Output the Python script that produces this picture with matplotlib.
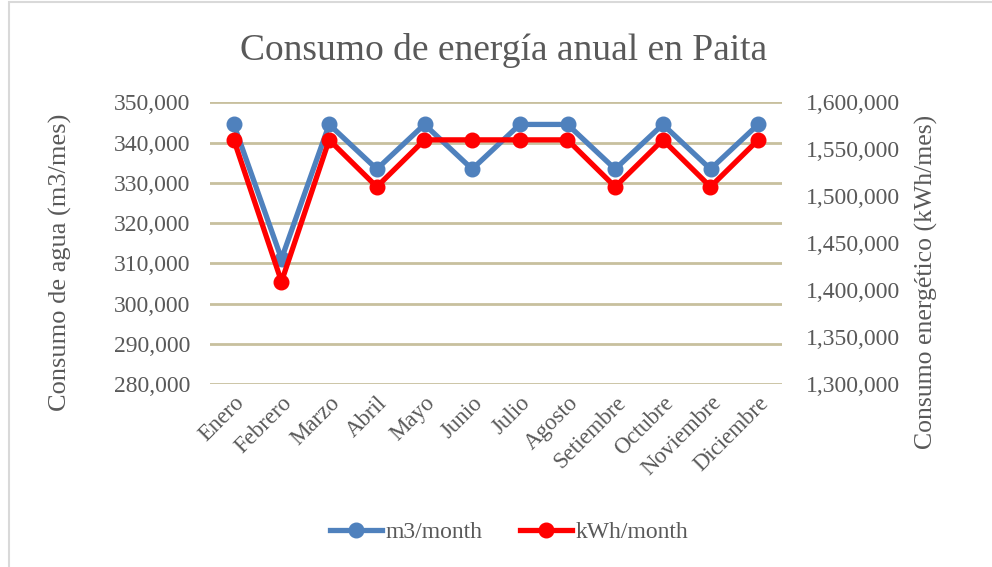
import matplotlib
matplotlib.use("Agg")
import matplotlib.pyplot as plt
from matplotlib.ticker import FuncFormatter, FixedLocator
from matplotlib.patches import Rectangle
from matplotlib.lines import Line2D

# Monthly data
months = ["Enero", "Febrero", "Marzo", "Abril", "Mayo", "Junio", "Julio",
          "Agosto", "Setiembre", "Octubre", "Noviembre", "Diciembre"]
water_m3 = [344500, 311100, 344500, 333400, 344500, 333400, 344500,
            344500, 333400, 344500, 333400, 344500]
energy_kwh = [1560000, 1409000, 1560000, 1510000, 1560000, 1560000, 1560000,
              1560000, 1510000, 1560000, 1510000, 1560000]
water_ticks = [280000, 290000, 300000, 310000, 320000, 330000, 340000, 350000]
energy_ticks = [1300000, 1350000, 1400000, 1450000, 1500000, 1550000, 1600000]

BLUE = "#4F81BD"
RED = "#FF0000"
TEXT = "#595959"
GRID = "#C8C09E"
FONT = "Liberation Serif"

plt.rcParams["font.family"] = [FONT, "DejaVu Serif"]

W, H = 992, 567
fig = plt.figure(figsize=(W / 100, H / 100), dpi=100)

# Outer chart frame
fig.add_artist(Rectangle((9 / W, -0.05), 1.2, 1 - 2 / H + 0.05,
                         transform=fig.transFigure, fill=False,
                         edgecolor="#D9D9D9", linewidth=1.5))

ax = fig.add_axes([210 / W, 1 - 384 / H, (782 - 210) / W, (384 - 102.3) / H])
ax2 = ax.twinx()

x = list(range(len(months)))
ax.plot(x, water_m3, color=BLUE, linewidth=3.8, marker="o", markersize=10.5,
        solid_joinstyle="round", label="m3/month", zorder=3)
ax2.plot(x, energy_kwh, color=RED, linewidth=3.8, marker="o", markersize=10.5,
         solid_joinstyle="round", label="kWh/month", zorder=3)

ax.set_xlim(-0.5, len(months) - 0.5)
ax.set_ylim(water_ticks[0], water_ticks[-1])
ax2.set_ylim(energy_ticks[0], energy_ticks[-1])
ax.yaxis.set_major_locator(FixedLocator(water_ticks))
ax2.yaxis.set_major_locator(FixedLocator(energy_ticks))
fmt = FuncFormatter(lambda v, p: f"{int(v):,}")
ax.yaxis.set_major_formatter(fmt)
ax2.yaxis.set_major_formatter(fmt)

ax.grid(axis="y", color=GRID, linewidth=2)
ax.set_axisbelow(True)
for a in (ax, ax2):
    for s in a.spines.values():
        s.set_visible(False)
    a.tick_params(length=0, labelsize=17, labelcolor=TEXT)
ax.tick_params(axis="y", pad=14)
ax2.tick_params(axis="y", pad=17)

ax.set_xticks(x)
ax.set_xticklabels(months, rotation=45, ha="right", rotation_mode="anchor")
ax.tick_params(axis="x", pad=6, labelsize=16.5)

fig.text(504 / W, 1 - 50 / H, "Consumo de energía anual en Paita", ha="center",
         va="center", fontsize=27, color=TEXT)
fig.text(60 / W, 1 - 262 / H, "Consumo de agua (m3/mes)", rotation=90,
         ha="center", va="center", fontsize=19, color=TEXT)
fig.text(926 / W, 1 - 282 / H, "Consumo energético (kWh/mes)", rotation=90,
         ha="center", va="center", fontsize=18.5, color=TEXT)

handles = [Line2D([], [], color=BLUE, linewidth=3.8, marker="o", markersize=10.5),
           Line2D([], [], color=RED, linewidth=3.8, marker="o", markersize=10.5)]
fig.legend(handles, ["m3/month", "kWh/month"], loc="center",
           bbox_to_anchor=(509 / W, 1 - 532 / H), ncol=2, frameon=False,
           fontsize=17, labelcolor=TEXT, handlelength=2.2, handletextpad=0.15,
           columnspacing=1.6)

fig.savefig("out.png", dpi=100)
